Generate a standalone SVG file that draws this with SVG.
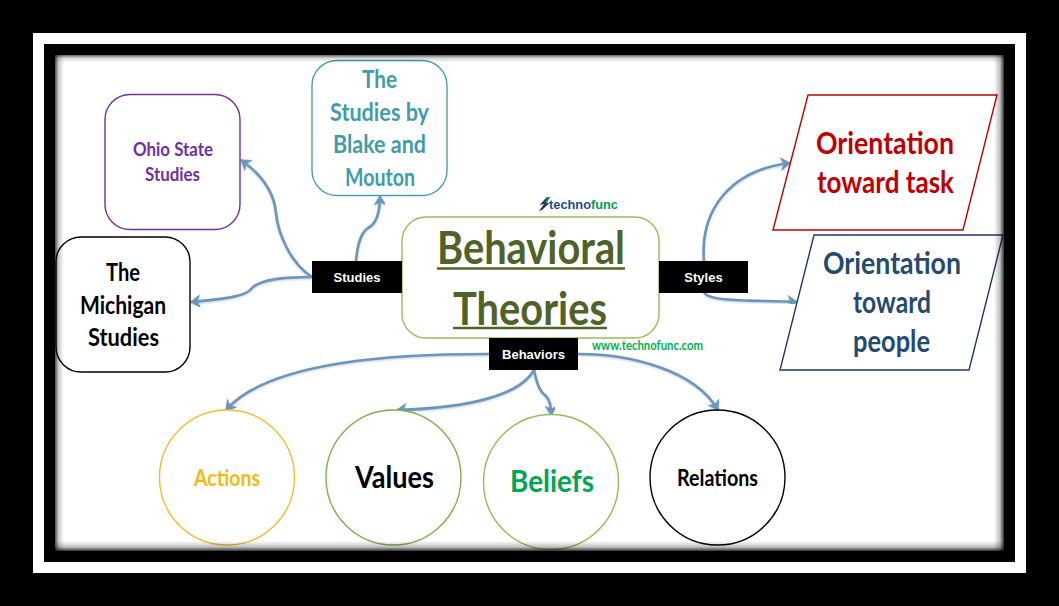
<svg xmlns="http://www.w3.org/2000/svg" width="1059" height="606" viewBox="0 0 1059 606">
<style>
.n{fill:#fff;stroke-width:1.4}
.t{font-family:"Lato","Noto Sans",sans-serif;font-weight:700;text-anchor:middle}
.lab{font-family:"Liberation Sans",Arial,sans-serif;font-weight:700;font-size:13px;fill:#fff;text-anchor:middle}
.box{fill:#000}
.c{fill:none;stroke:#6b96bd;stroke-width:2.6;marker-end:url(#a);filter:url(#s)}
.u{stroke:#4f6228;stroke-width:2.6}
</style>
<defs>
<marker id="a" viewBox="0 0 14 14" refX="12.500" refY="7" markerWidth="14" markerHeight="14" markerUnits="userSpaceOnUse" orient="auto">
<path d="M4 1.500 L12.500 7 L4 12.500 L6.500 7 Z" fill="#6b96bd" stroke="#6b96bd" stroke-width="1"/>
</marker>
<filter id="s" x="-20%" y="-20%" width="140%" height="140%"><feDropShadow dx="0" dy="1" stdDeviation="1" flood-color="#8f9fb0" flood-opacity=".5"/></filter>
<linearGradient id="gl" x1="0" x2="1" y1="0" y2="0"><stop offset="0" stop-color="#000" stop-opacity=".7"/><stop offset=".4" stop-color="#000" stop-opacity=".2"/><stop offset="1" stop-color="#000" stop-opacity="0"/></linearGradient>
<linearGradient id="gr" x1="1" x2="0" y1="0" y2="0"><stop offset="0" stop-color="#000" stop-opacity=".8"/><stop offset=".4" stop-color="#000" stop-opacity=".25"/><stop offset="1" stop-color="#000" stop-opacity="0"/></linearGradient>
<linearGradient id="gt" x1="0" x2="0" y1="0" y2="1"><stop offset="0" stop-color="#000" stop-opacity=".6"/><stop offset=".4" stop-color="#000" stop-opacity=".15"/><stop offset="1" stop-color="#000" stop-opacity="0"/></linearGradient>
<linearGradient id="gb" x1="0" x2="0" y1="1" y2="0"><stop offset="0" stop-color="#000" stop-opacity=".8"/><stop offset=".4" stop-color="#000" stop-opacity=".25"/><stop offset="1" stop-color="#000" stop-opacity="0"/></linearGradient>
</defs>
<g id="frame">
<rect width="1059" height="606" fill="#000"/>
<rect x="33" y="33" width="993" height="540" fill="#fff"/>
<rect x="44" y="44" width="971" height="518" fill="#000"/>
<rect x="55" y="55" width="949" height="496" fill="#fff"/>
</g>
<g id="connectors">
<path class="c" d="M312 277C290 263 278 233 276 213C274 190 258 172 241 160"/>
<path class="c" d="M356 261C358 240 362 232 368 228C376 224 380 215 380 196"/>
<path class="c" d="M312 277C290 277 262 278 252 288C248 296 225 299 191 302"/>
<path class="c" d="M489 354C400 354 270 360 226 410"/>
<path class="c" d="M534 370C520 395 470 408 397 410"/>
<path class="c" d="M534 370C537 385 540 392 545 395C550 400 551 405 551 415"/>
<path class="c" d="M578 354C630 354 695 370 718 410"/>
<path class="c" d="M704 261C700 210 730 170 790 163"/>
<path class="c" d="M704 293C712 302 750 300 797 302"/>
</g>
<g id="ohio"><rect class="n" x="105" y="94.500" width="135" height="135" rx="25" stroke="#7030a0"/>
<g class="t" fill="#7030a0" font-size="19"><text x="173" y="156" textLength="80" lengthAdjust="spacingAndGlyphs">Ohio State</text><text x="172.500" y="181" textLength="55" lengthAdjust="spacingAndGlyphs">Studies</text></g></g>
<g id="blake"><rect class="n" x="312" y="60.500" width="135" height="135" rx="25" stroke="#4a9fae"/>
<g class="t" fill="#3f9cab" font-size="25"><text x="379.500" y="88" textLength="35" lengthAdjust="spacingAndGlyphs">The</text><text x="379.500" y="121" textLength="99" lengthAdjust="spacingAndGlyphs">Studies by</text><text x="379.500" y="153" textLength="93" lengthAdjust="spacingAndGlyphs">Blake and</text><text x="380" y="186" textLength="70" lengthAdjust="spacingAndGlyphs">Mouton</text></g></g>
<g id="michigan"><rect class="n" x="56" y="237" width="134" height="135" rx="25" stroke="#000"/>
<g class="t" fill="#000" font-size="25"><text x="123" y="281" textLength="34" lengthAdjust="spacingAndGlyphs">The</text><text x="123" y="314" textLength="86" lengthAdjust="spacingAndGlyphs">Michigan</text><text x="123.500" y="346" textLength="71" lengthAdjust="spacingAndGlyphs">Studies</text></g></g>
<g id="center"><rect class="n" x="402" y="217" width="257" height="121" rx="24" stroke="#9bbb59"/>
<g class="t" fill="#4f6228" font-size="46"><text x="531" y="264" textLength="188" lengthAdjust="spacingAndGlyphs">Behavioral</text><text x="530" y="325" textLength="154" lengthAdjust="spacingAndGlyphs">Theories</text></g>
<path class="u" d="M437 268.500H625M453 328H607"/></g>
<g id="logo"><path d="M539 211L544 204L539.500 205L547 197L550 197L546.500 203L549.500 203L542 210Z" fill="#1f3864"/><path d="M544.500 203L548 197L550 197L546.500 203Z" fill="#00a050"/>
<text x="549" y="209" font-family="'Liberation Sans',sans-serif" font-weight="700" font-size="12.800"><tspan fill="#1f4e79">techno</tspan><tspan fill="#00a050">func</tspan></text></g>
<g id="url"><text x="592" y="350" font-family="Lato,sans-serif" font-weight="700" font-size="12.500" fill="#00b050" textLength="111" lengthAdjust="spacingAndGlyphs">www.technofunc.com</text></g>
<g id="studies"><rect class="box" x="312" y="261" width="90" height="32"/><text class="lab" x="357" y="282">Studies</text></g>
<g id="styles"><rect class="box" x="659" y="261" width="89" height="32"/><text class="lab" x="703.500" y="282">Styles</text></g>
<g id="behaviors"><rect class="box" x="489" y="338" width="89" height="32"/><text class="lab" x="533.500" y="359">Behaviors</text></g>
<g id="task"><polygon class="n" points="808,95 997,95 963,230 773,230" stroke="#c00000"/>
<g class="t" fill="#c00000" font-size="31"><text x="885" y="154" textLength="138" lengthAdjust="spacingAndGlyphs">Orientation</text><text x="885.500" y="193" textLength="137" lengthAdjust="spacingAndGlyphs">toward task</text></g></g>
<g id="people"><polygon class="n" points="814,235 1003,235 969,370 780,370" stroke="#1f3864"/>
<g class="t" fill="#244a6e" font-size="31"><text x="892" y="274" textLength="138" lengthAdjust="spacingAndGlyphs">Orientation</text><text x="892" y="313" textLength="78" lengthAdjust="spacingAndGlyphs">toward</text><text x="891.500" y="352" textLength="77" lengthAdjust="spacingAndGlyphs">people</text></g></g>
<g id="actions"><circle class="n" cx="227" cy="477.500" r="67.500" stroke="#f0bc2e"/><text class="t" x="227" y="486" fill="#f5b90f" font-size="23" textLength="66" lengthAdjust="spacingAndGlyphs">Actions</text></g>
<g id="values"><circle class="n" cx="393.500" cy="477.500" r="67.500" stroke="#7fb04f"/><text class="t" x="394.500" y="488" fill="#000" font-size="30" textLength="79" lengthAdjust="spacingAndGlyphs">Values</text></g>
<g id="beliefs"><circle class="n" cx="551" cy="482" r="67.500" stroke="#8fbf5a"/><text class="t" x="552" y="492" fill="#00a650" font-size="30" textLength="84" lengthAdjust="spacingAndGlyphs">Beliefs</text></g>
<g id="relations"><circle class="n" cx="717.500" cy="477.500" r="67.500" stroke="#000"/><text class="t" x="717.500" y="486" fill="#000" font-size="23" textLength="81" lengthAdjust="spacingAndGlyphs">Relations</text></g>
<g id="vignette">
<rect x="55" y="55" width="949" height="8" fill="url(#gt)"/>
<rect x="55" y="541" width="949" height="10" fill="url(#gb)"/>
<rect x="55" y="55" width="9" height="496" fill="url(#gl)"/>
<rect x="994" y="55" width="10" height="496" fill="url(#gr)"/>
</g>
</svg>
